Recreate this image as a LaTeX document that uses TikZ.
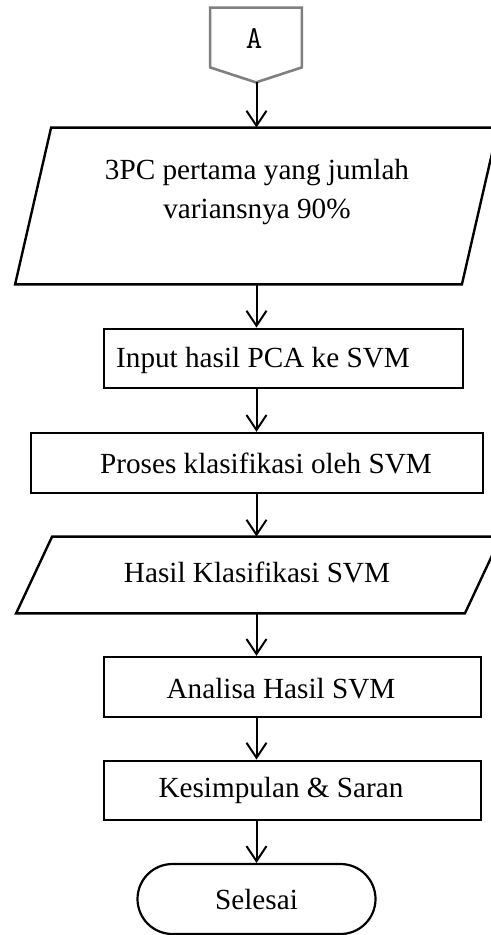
\documentclass[tikz,border=0pt]{standalone}
\usepackage{fontspec}
\setmainfont{Liberation Serif}
\usetikzlibrary{arrows.meta,shapes.misc}
\tikzset{
  frm/.style = {rectangle, inner sep=0pt},
  proc/.style = {rectangle, draw=black, line width=1.2pt, inner sep=0pt, minimum height=29.75pt},
  txt/.style = {font=\fontsize{14.6}{19.5}\selectfont, align=center, inner sep=0pt},
  term/.style = {rounded rectangle, draw=black, line width=1.1pt, inner sep=0pt,
                 minimum width=119pt, minimum height=35pt, font=\fontsize{14.6}{19.5}\selectfont},
  flow/.style = {-{Straight Barb[length=7.5pt,width=10pt]}, line width=1pt},
  shear/.style = {line width=1.2pt, line join=miter}
}
\begin{document}
\begin{tikzpicture}[x=0.5pt, y=-0.5pt]
\useasboundingbox (0,0) rectangle (491,935);

% off-page connector
\node [frm, minimum width=45.5pt, minimum height=37pt] (conA) at (256,45) {};
\draw [gray, line width=1.3pt, line join=miter] (conA.north west) -- (conA.north east)
      -- ([yshift=7.5pt]conA.south east) -- (conA.south) -- ([yshift=7.5pt]conA.south west) -- cycle;
\node [font=\ttfamily\fontsize{16}{18}\selectfont, inner sep=0pt] (labA) at (254,39) {A};

% data: principal components
\node [frm, minimum width=223pt, minimum height=78pt] (pc) at (256.5,206) {};
\draw [shear] ([xshift=9pt]pc.north west) -- ([xshift=9pt]pc.north east)
      -- ([xshift=-9pt]pc.south east) -- ([xshift=-9pt]pc.south west) -- cycle;
\node [txt] (pctxt) at (257,192.5) {3PC pertama yang jumlah\\variansnya 90\%};

% processes
\node [proc, minimum width=179.5pt] (inp) at (283.5,358.5) {};
\node [txt] (inptxt) at (263,360) {Input hasil PCA ke SVM};
\node [proc, minimum width=226pt, minimum height=30pt] (prs) at (257,463) {};
\node [txt] (prstxt) at (266,463) {Proses klasifikasi oleh SVM};

% data: classification result
\node [frm, minimum width=224pt, minimum height=38pt] (hsl) at (258.5,575) {};
\draw [shear] ([xshift=9pt]hsl.north west) -- ([xshift=9pt]hsl.north east)
      -- ([xshift=-9pt]hsl.south east) -- ([xshift=-9pt]hsl.south west) -- cycle;
\node [txt] (hsltxt) at (257,572) {Hasil Klasifikasi SVM};

\node [proc, minimum width=188.5pt, minimum height=30pt] (ana) at (292.5,687) {};
\node [txt] (anatxt) at (281,689) {Analisa Hasil SVM};
\node [proc, minimum width=188.5pt] (kes) at (292.5,790.5) {};
\node [txt] (kestxt) at (281,790) {Kesimpulan \& Saran};

% terminator
\node [term] (sel) at (256.5,899) {Selesai};

% connectors
\foreach \a/\b in {conA/pc, pc/inp, inp/prs, prs/hsl, hsl/ana, ana/kes, kes/sel}
  \draw [flow] (pc.center |- \a.south) -- (pc.center |- \b.north);
\end{tikzpicture}
\end{document}
